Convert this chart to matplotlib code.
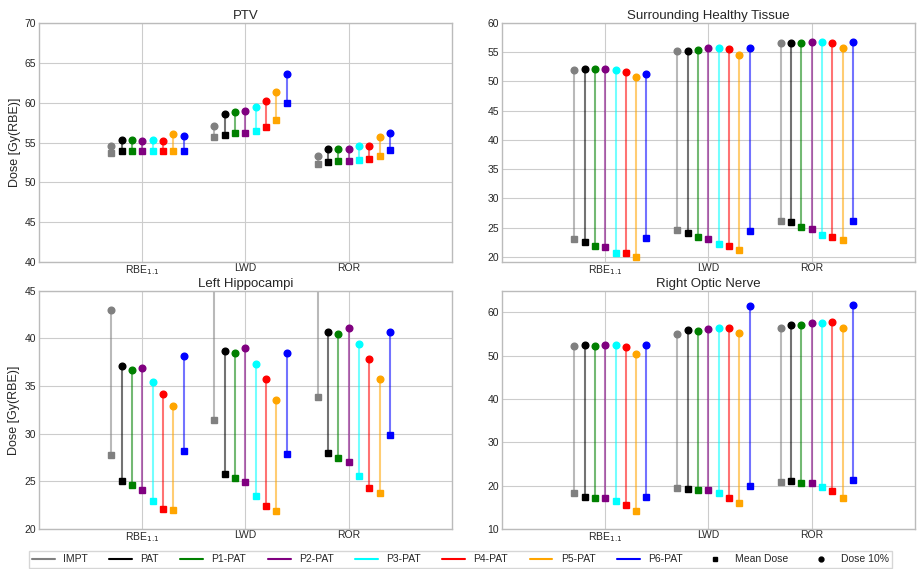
import matplotlib
matplotlib.use("Agg")
import matplotlib.pyplot as plt
from matplotlib.lines import Line2D
import numpy as np

# plans and models
plans = ["IMPT", "PAT", "P1-PAT", "P2-PAT", "P3-PAT", "P4-PAT", "P5-PAT", "P6-PAT"]
colors = ["gray", "black", "green", "purple", "cyan", "red", "orange", "blue"]
models = [r"RBE$_{1.1}$", "LWD", "ROR"]

# mean dose / dose 10% per model (rows RBE, LWD, ROR), columns follow plans
ptv_mean = [[53.7, 54.0, 54.0, 54.0, 54.0, 53.9, 53.9, 54.0],
            [55.7, 56.0, 56.2, 56.2, 56.4, 57.0, 57.8, 60.0],
            [52.3, 52.6, 52.7, 52.7, 52.8, 52.9, 53.3, 54.1]]
ptv_d10 = [[54.6, 55.3, 55.3, 55.2, 55.3, 55.2, 56.1, 55.8],
           [57.1, 58.6, 58.8, 58.9, 59.4, 60.2, 61.4, 63.6],
           [53.3, 54.2, 54.2, 54.2, 54.6, 54.6, 55.7, 56.2]]

sht_mean = [[23.0, 22.5, 21.9, 21.6, 20.7, 20.6, 20.0, 23.2],
            [24.5, 24.1, 23.4, 23.0, 22.1, 21.8, 21.2, 24.4],
            [26.1, 25.9, 25.1, 24.8, 23.8, 23.4, 22.8, 26.1]]
sht_d10 = [[52.0, 52.2, 52.1, 52.2, 51.9, 51.6, 50.7, 51.3],
           [55.3, 55.2, 55.4, 55.7, 55.7, 55.5, 54.5, 55.8],
           [56.5, 56.5, 56.6, 56.8, 56.8, 56.6, 55.7, 56.8]]

hip_mean = [[27.8, 25.0, 24.6, 24.1, 22.9, 22.1, 22.0, 28.2],
            [31.4, 25.8, 25.3, 24.9, 23.5, 22.4, 21.9, 27.9],
            [33.8, 28.0, 27.4, 27.0, 25.6, 24.3, 23.8, 29.9]]
hip_d10 = [[43.0, 37.1, 36.7, 36.9, 35.4, 34.2, 32.9, 38.1],
           [47.5, 38.7, 38.5, 39.0, 37.3, 35.7, 33.5, 38.5],
           [50.0, 40.7, 40.5, 41.1, 39.4, 37.8, 35.7, 40.7]]

ron_mean = [[18.3, 17.5, 17.1, 17.1, 16.4, 15.5, 14.2, 17.5],
            [19.5, 19.2, 18.9, 18.9, 18.2, 17.2, 15.9, 19.9],
            [20.9, 21.0, 20.6, 20.6, 19.8, 18.7, 17.2, 21.3]]
ron_d10 = [[52.3, 52.5, 52.2, 52.5, 52.4, 52.1, 50.3, 52.4],
           [55.0, 55.9, 55.8, 56.2, 56.3, 56.5, 55.2, 61.5],
           [56.3, 57.1, 57.1, 57.5, 57.5, 57.8, 56.5, 61.6]]

offsets = [-0.3, -0.2, -0.1, 0.0, 0.1, 0.2, 0.3, 0.4]

plt.style.use("seaborn-v0_8-whitegrid")
fig = plt.figure(figsize=(9.21, 5.69), dpi=100)

panels = [
    ("PTV", ptv_mean, ptv_d10, [0.0423, 0.5395, 0.4484, 0.42], (40, 70), np.arange(40, 71, 5), True),
    ("Surrounding Healthy Tissue", sht_mean, sht_d10, [0.545, 0.5395, 0.4484, 0.42], (19.1, 60), np.arange(20, 61, 5), False),
    ("Left Hippocampi", hip_mean, hip_d10, [0.0423, 0.0703, 0.4484, 0.4188], (20, 45), np.arange(20, 46, 5), True),
    ("Right Optic Nerve", ron_mean, ron_d10, [0.545, 0.0703, 0.4484, 0.4188], (10, 65), np.arange(10, 61, 10), False),
]

for title, mean, d10, pos, ylim, yticks, show_ylabel in panels:
    ax = fig.add_axes(pos)
    for m in range(len(models)):
        for p in range(len(plans)):
            x = m + 1 + offsets[p]
            ax.plot([x, x], [mean[m][p], d10[m][p]], color=colors[p], alpha=0.55, lw=1.5, zorder=2)
            ax.plot(x, mean[m][p], "s", color=colors[p], ms=4.3, zorder=3)
            ax.plot(x, d10[m][p], "o", color=colors[p], ms=4.8, zorder=3)
    ax.set_xlim(0, 4)
    ax.set_xticks([1, 2, 3])
    ax.set_xticklabels(models, fontsize=7.5)
    ax.set_ylim(ylim)
    ax.set_yticks(yticks)
    ax.tick_params(axis="y", labelsize=7.5, pad=2)
    ax.tick_params(axis="x", pad=1)
    ax.set_title(title, fontsize=9.5, pad=3)
    if show_ylabel:
        ax.set_ylabel("Dose [Gy(RBE)]", fontsize=9, labelpad=3)
    for s in ax.spines.values():
        s.set_visible(True)
        s.set_color("#bbbbbb")

# legend
handles = [Line2D([], [], color=c, lw=1.5) for c in colors]
handles.append(Line2D([], [], ls="none", marker="s", color="black", ms=3.5))
handles.append(Line2D([], [], ls="none", marker="o", color="black", ms=3.5))
labels = plans + ["Mean Dose", "Dose 10%"]
fig.legend(handles, labels, loc="upper center", bbox_to_anchor=(0.5, 0.031), ncol=10,
           fontsize=7.5, frameon=True, edgecolor="#cccccc", fancybox=False,
           columnspacing=2.05, handlelength=2.2, borderpad=0.3, borderaxespad=0)

plt.savefig("out.png", dpi=100)
